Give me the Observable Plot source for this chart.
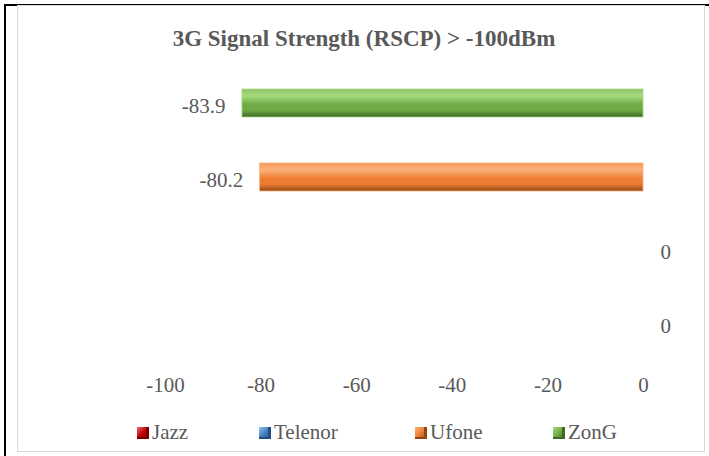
<!DOCTYPE html>
<html>
<head>
<meta charset="utf-8">
<script src="https://cdn.jsdelivr.net/npm/d3@7"></script>
<script src="https://cdn.jsdelivr.net/npm/@observablehq/plot@0.6"></script>
<style>
  html, body { margin: 0; padding: 0; background: #fff; }
  #wrap { position: relative; width: 709px; height: 456px; overflow: hidden; background: #fff; font-family: "Liberation Serif", serif; color: #595959; }
  .blk-left { position: absolute; left: 4px; top: 4px; width: 2px; height: 452px; background: #000; }
  .blk-top { position: absolute; left: 4px; top: 4px; width: 705px; height: 2px; background: #000; }
  .frame { position: absolute; left: 17px; top: 5px; width: 686px; height: 445px; border: 1.5px solid #d9d9d9; }
  #title { position: absolute; left: 0; top: 26px; width: 728px; text-align: center; font-size: 23px; font-weight: bold; color: #595959; white-space: nowrap; }
  #chart { position: absolute; left: 0; top: 60px; }
  #legend { position: absolute; top: 420px; left: 0; width: 709px; height: 26px; font-size: 21px; }
  .item { position: absolute; top: 0; display: flex; align-items: center; white-space: nowrap; }
  .sw { width: 12px; height: 12px; margin-right: 3px; box-sizing: border-box; }
</style>
</head>
<body>
<div id="wrap">
  <div class="blk-left"></div>
  <div class="blk-top"></div>
  <div class="frame"></div>
  <div id="title">3G Signal Strength (RSCP) &gt; -100dBm</div>
  <div id="chart"></div>
  <div id="legend"></div>
</div>
<script>
// ---- data ----
const operators = ["ZonG", "Ufone", "Telenor", "Jazz"];   // top to bottom
const rscp = [-83.9, -80.2, 0, 0];
const legendOrder = ["Jazz", "Telenor", "Ufone", "ZonG"];
const xTicks = [-100, -80, -60, -40, -20, 0];
const shades = {
  Jazz:    ["#d64545", "#e86a6a", "#c00000", "#7a0000"],
  Telenor: ["#7aa7d8", "#9cc2ea", "#3f7fc2", "#24507f"],
  Ufone:   ["#f39a5c", "#fbb07a", "#ed7d31", "#8f4714"],
  ZonG:    ["#8ec467", "#a6da7e", "#6eab45", "#3e6827"]
};

const data = operators.map((op, i) => ({op, value: rscp[i], grad: `url(#grad-${op})`}));

const plot = Plot.plot({
  width: 709,
  height: 350,
  marginLeft: 165,
  marginRight: 66,
  marginTop: 6,
  marginBottom: 48,
  style: {fontFamily: "Liberation Serif, serif", fontSize: "21px", color: "#595959", background: "transparent"},
  x: {domain: [-100, 0], label: null},
  y: {domain: operators, paddingInner: 0.622, paddingOuter: 0.31, axis: null},
  marks: [
    Plot.barX(data, {y: "op", x1: 0, x2: "value", fill: "grad", stroke: d => shades[d.op][1], strokeWidth: 0.8}),
    Plot.text(data.filter(d => d.value < 0), {y: "op", x: "value", text: d => String(d.value), textAnchor: "end", dx: -17, dy: 2.5, fill: "#595959"}),
    Plot.text(data.filter(d => d.value >= 0), {y: "op", x: "value", text: d => String(d.value), textAnchor: "start", dx: 17, dy: 1, fill: "#595959"}),
    Plot.axisX({ticks: xTicks, tickSize: 0, tickPadding: 15, tickFormat: d => String(d), fill: "#595959", fontSize: 21, label: null})
  ]
});

// gradient definitions for the beveled bars
const svg = d3.select(plot);
const defs = svg.insert("defs", ":first-child");
for (const op of operators) {
  const s = shades[op];
  const g = defs.append("linearGradient").attr("id", `grad-${op}`).attr("x1", 0).attr("y1", 0).attr("x2", 0).attr("y2", 1);
  [[0, s[0]], [0.25, s[1]], [0.55, s[2]], [0.75, s[2]], [1, s[3]]]
    .forEach(([o, c]) => g.append("stop").attr("offset", o).attr("stop-color", c));
}
document.getElementById("chart").appendChild(plot);

// legend
const legendX = [137, 259, 415, 553];
const legend = document.getElementById("legend");
legendOrder.forEach((op, i) => {
  const item = document.createElement("div");
  item.className = "item";
  item.style.left = legendX[i] + "px";
  const sw = document.createElement("div");
  sw.className = "sw";
  const s = shades[op];
  sw.style.background = `linear-gradient(135deg, ${s[1]} 0%, ${s[2]} 50%, ${s[3]} 100%)`;
  sw.style.boxShadow = `inset -3px 0 0 ${s[3]}, inset 0 -2px 0 ${s[3]}`;
  const label = document.createElement("span");
  label.textContent = op;
  item.appendChild(sw);
  item.appendChild(label);
  legend.appendChild(item);
});
</script>
</body>
</html>
